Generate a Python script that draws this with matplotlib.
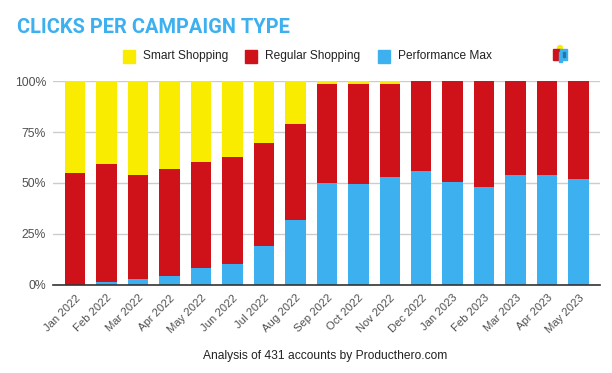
import matplotlib
matplotlib.use("Agg")
import matplotlib.pyplot as plt
from matplotlib.patches import Rectangle, Ellipse
import numpy as np

months = ["Jan 2022","Feb 2022","Mar 2022","Apr 2022","May 2022","Jun 2022","Jul 2022","Aug 2022","Sep 2022",
          "Oct 2022","Nov 2022","Dec 2022","Jan 2023","Feb 2023","Mar 2023","Apr 2023","May 2023"]
performance_max = [0, 1, 2.5, 4, 8, 10, 19, 32, 50, 49.5, 53, 56, 50.5, 48, 54, 54, 52]
regular = [55, 58.5, 51.5, 53, 52.5, 53, 50.5, 47, 49, 49.5, 46, 44, 49.5, 52, 46, 46, 48]
smart = [45, 40.5, 46, 43, 39.5, 37, 30.5, 21, 1, 1, 1, 0, 0, 0, 0, 0, 0]
yticks = [0, 25, 50, 75, 100]
ylabels = ["0%", "25%", "50%", "75%", "100%"]

YEL, RED, BLU = "#faec00", "#cf1119", "#3db0f0"
W, H = 612, 373
fig = plt.figure(figsize=(W/100, H/100), dpi=100)
ax = fig.add_axes([53/W, 1-284.5/H, 547/W, 203/H])
x = np.arange(len(months))
pm, rg, sm = map(np.array, (performance_max, regular, smart))
ax.bar(x, pm, width=0.65, color=BLU, zorder=3)
ax.bar(x, rg, width=0.65, bottom=pm, color=RED, zorder=3)
ax.bar(x, sm, width=0.65, bottom=pm+rg, color=YEL, zorder=3)
ax.set_xlim(-0.70, 16.68)
ax.set_ylim(0, 100)
for s in ax.spines.values():
    s.set_visible(False)
ax.set_yticks(yticks, ylabels, fontsize=8.8, color="#505050", family="Liberation Sans")
ax.tick_params(axis="y", length=0, pad=5)
ax.grid(axis="y", color="#cccccc", lw=1, zorder=0)
ax.axhline(0, color="#333333", lw=1.2, zorder=4, clip_on=False)
ax.set_xticks(x, months, rotation=45, ha="right", rotation_mode="anchor",
              fontsize=8.1, color="#505050", family="Liberation Sans")
ax.tick_params(axis="x", length=0, pad=6)

fig.text(17/W, 1-27.5/H, "CLICKS PER CAMPAIGN TYPE", color=BLU, fontsize=14.4, fontweight="bold",
         family="Roboto", va="center", ha="left")

for px, col, lab in [(123, YEL, "Smart Shopping"), (245, RED, "Regular Shopping"), (378, BLU, "Performance Max")]:
    fig.add_artist(Rectangle((px/W, 1-62.5/H), 12/W, 12/H, color=col, transform=fig.transFigure))
    fig.text((px+20)/W, 1-56/H, lab, fontsize=8.6, color="#222222", family="Liberation Sans", va="center", ha="left")
# small brand logo
fig.add_artist(Ellipse((560/W, 1-48/H), 5/W, 5/H, color=YEL, transform=fig.transFigure))
for (lx, ly, lw_, lh, c) in [(553, 49, 7, 11, RED), (560, 49, 7, 11, BLU), (558.5, 52, 3, 10, BLU), (563, 52, 2, 5, "#2277aa")]:
    fig.add_artist(Rectangle((lx/W, 1-(ly+lh)/H), lw_/W, lh/H, color=c, transform=fig.transFigure))

fig.text(325/W, 1-356.5/H, "Analysis of 431 accounts by Producthero.com", fontsize=8.65, color="#222222",
         family="Liberation Sans", ha="center", va="center")
fig.savefig("out.png", dpi=100)
